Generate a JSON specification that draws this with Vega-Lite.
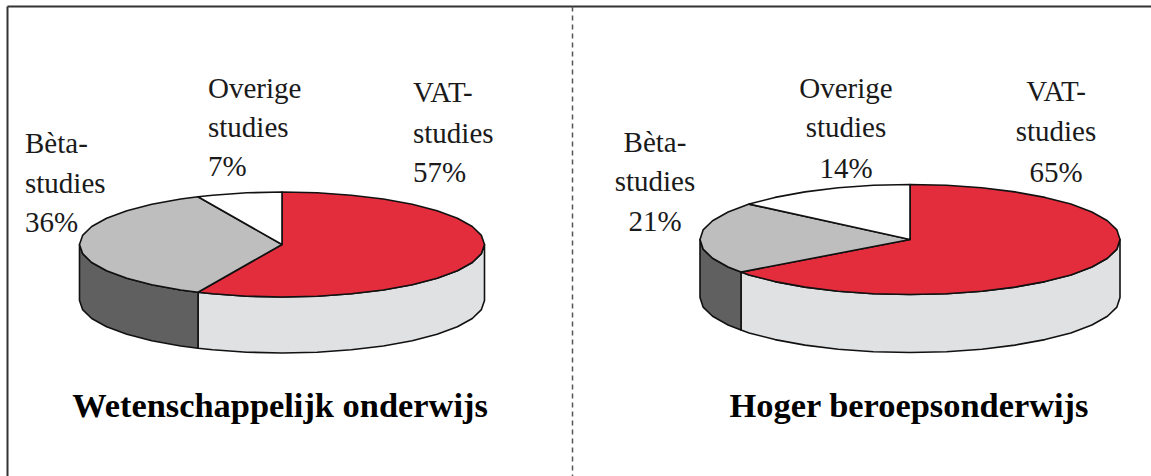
{"$schema":"https://vega.github.io/schema/vega-lite/v6.json","width":1151,"height":476,"padding":0,"autosize":{"type":"none"},"background":"#ffffff","view":{"stroke":null},
"datasets":{
"shapes":[
{"pie":"WO","part":"side VAT","i":1,"x":484.5,"y":244.5},{"pie":"WO","part":"side VAT","i":2,"x":481.4,"y":253.6},{"pie":"WO","part":"side VAT","i":3,"x":472.3,"y":262.5},{"pie":"WO","part":"side VAT","i":4,"x":457.4,"y":270.8},{"pie":"WO","part":"side VAT","i":5,"x":437.1,"y":278.3},{"pie":"WO","part":"side VAT","i":6,"x":412.2,"y":284.7},{"pie":"WO","part":"side VAT","i":7,"x":383.3,"y":290},{"pie":"WO","part":"side VAT","i":8,"x":351.3,"y":293.8},{"pie":"WO","part":"side VAT","i":9,"x":317.2,"y":296.2},{"pie":"WO","part":"side VAT","i":10,"x":282,"y":297},{"pie":"WO","part":"side VAT","i":11,"x":246.8,"y":296.2},{"pie":"WO","part":"side VAT","i":12,"x":212.7,"y":293.8},{"pie":"WO","part":"side VAT","i":13,"x":198,"y":292.3},{"pie":"WO","part":"side VAT","i":14,"x":198,"y":348.3},{"pie":"WO","part":"side VAT","i":15,"x":212.7,"y":349.8},{"pie":"WO","part":"side VAT","i":16,"x":246.8,"y":352.2},{"pie":"WO","part":"side VAT","i":17,"x":282,"y":353},{"pie":"WO","part":"side VAT","i":18,"x":317.2,"y":352.2},{"pie":"WO","part":"side VAT","i":19,"x":351.3,"y":349.8},{"pie":"WO","part":"side VAT","i":20,"x":383.3,"y":346},{"pie":"WO","part":"side VAT","i":21,"x":412.2,"y":340.7},{"pie":"WO","part":"side VAT","i":22,"x":437.1,"y":334.3},{"pie":"WO","part":"side VAT","i":23,"x":457.4,"y":326.8},{"pie":"WO","part":"side VAT","i":24,"x":472.3,"y":318.5},{"pie":"WO","part":"side VAT","i":25,"x":481.4,"y":309.6},{"pie":"WO","part":"side VAT","i":26,"x":484.5,"y":300.5},
{"pie":"WO","part":"side Beta","i":1,"x":198,"y":292.3},{"pie":"WO","part":"side Beta","i":2,"x":180.7,"y":290},{"pie":"WO","part":"side Beta","i":3,"x":151.8,"y":284.7},{"pie":"WO","part":"side Beta","i":4,"x":126.9,"y":278.3},{"pie":"WO","part":"side Beta","i":5,"x":106.6,"y":270.8},{"pie":"WO","part":"side Beta","i":6,"x":91.7,"y":262.5},{"pie":"WO","part":"side Beta","i":7,"x":82.6,"y":253.6},{"pie":"WO","part":"side Beta","i":8,"x":79.5,"y":244.5},{"pie":"WO","part":"side Beta","i":9,"x":79.5,"y":300.5},{"pie":"WO","part":"side Beta","i":10,"x":82.6,"y":309.6},{"pie":"WO","part":"side Beta","i":11,"x":91.7,"y":318.5},{"pie":"WO","part":"side Beta","i":12,"x":106.6,"y":326.8},{"pie":"WO","part":"side Beta","i":13,"x":126.9,"y":334.3},{"pie":"WO","part":"side Beta","i":14,"x":151.8,"y":340.7},{"pie":"WO","part":"side Beta","i":15,"x":180.7,"y":346},{"pie":"WO","part":"side Beta","i":16,"x":198,"y":348.3},
{"pie":"WO","part":"VAT-studies","i":1,"x":282,"y":244.5},{"pie":"WO","part":"VAT-studies","i":2,"x":282,"y":192},{"pie":"WO","part":"VAT-studies","i":3,"x":317.2,"y":192.8},{"pie":"WO","part":"VAT-studies","i":4,"x":351.3,"y":195.2},{"pie":"WO","part":"VAT-studies","i":5,"x":383.3,"y":199},{"pie":"WO","part":"VAT-studies","i":6,"x":412.2,"y":204.3},{"pie":"WO","part":"VAT-studies","i":7,"x":437.1,"y":210.7},{"pie":"WO","part":"VAT-studies","i":8,"x":457.4,"y":218.2},{"pie":"WO","part":"VAT-studies","i":9,"x":472.3,"y":226.5},{"pie":"WO","part":"VAT-studies","i":10,"x":481.4,"y":235.4},{"pie":"WO","part":"VAT-studies","i":11,"x":484.5,"y":244.5},{"pie":"WO","part":"VAT-studies","i":12,"x":481.4,"y":253.6},{"pie":"WO","part":"VAT-studies","i":13,"x":472.3,"y":262.5},{"pie":"WO","part":"VAT-studies","i":14,"x":457.4,"y":270.8},{"pie":"WO","part":"VAT-studies","i":15,"x":437.1,"y":278.3},{"pie":"WO","part":"VAT-studies","i":16,"x":412.2,"y":284.7},{"pie":"WO","part":"VAT-studies","i":17,"x":383.3,"y":290},{"pie":"WO","part":"VAT-studies","i":18,"x":351.3,"y":293.8},{"pie":"WO","part":"VAT-studies","i":19,"x":317.2,"y":296.2},{"pie":"WO","part":"VAT-studies","i":20,"x":282,"y":297},{"pie":"WO","part":"VAT-studies","i":21,"x":246.8,"y":296.2},{"pie":"WO","part":"VAT-studies","i":22,"x":212.7,"y":293.8},{"pie":"WO","part":"VAT-studies","i":23,"x":198,"y":292.3},
{"pie":"WO","part":"Bèta-studies","i":1,"x":282,"y":244.5},{"pie":"WO","part":"Bèta-studies","i":2,"x":198,"y":292.3},{"pie":"WO","part":"Bèta-studies","i":3,"x":180.7,"y":290},{"pie":"WO","part":"Bèta-studies","i":4,"x":151.8,"y":284.7},{"pie":"WO","part":"Bèta-studies","i":5,"x":126.9,"y":278.3},{"pie":"WO","part":"Bèta-studies","i":6,"x":106.6,"y":270.8},{"pie":"WO","part":"Bèta-studies","i":7,"x":91.7,"y":262.5},{"pie":"WO","part":"Bèta-studies","i":8,"x":82.6,"y":253.6},{"pie":"WO","part":"Bèta-studies","i":9,"x":79.5,"y":244.5},{"pie":"WO","part":"Bèta-studies","i":10,"x":82.6,"y":235.4},{"pie":"WO","part":"Bèta-studies","i":11,"x":91.7,"y":226.5},{"pie":"WO","part":"Bèta-studies","i":12,"x":106.6,"y":218.2},{"pie":"WO","part":"Bèta-studies","i":13,"x":126.9,"y":210.7},{"pie":"WO","part":"Bèta-studies","i":14,"x":151.8,"y":204.3},{"pie":"WO","part":"Bèta-studies","i":15,"x":180.7,"y":199},{"pie":"WO","part":"Bèta-studies","i":16,"x":198,"y":196.7},
{"pie":"WO","part":"Overige studies","i":1,"x":282,"y":244.5},{"pie":"WO","part":"Overige studies","i":2,"x":198,"y":196.7},{"pie":"WO","part":"Overige studies","i":3,"x":212.7,"y":195.2},{"pie":"WO","part":"Overige studies","i":4,"x":246.8,"y":192.8},{"pie":"WO","part":"Overige studies","i":5,"x":282,"y":192},
{"pie":"HBO","part":"side VAT","i":1,"x":1120,"y":239.5},{"pie":"HBO","part":"side VAT","i":2,"x":1116.9,"y":249.1},{"pie":"HBO","part":"side VAT","i":3,"x":1107.4,"y":258.3},{"pie":"HBO","part":"side VAT","i":4,"x":1091.9,"y":267},{"pie":"HBO","part":"side VAT","i":5,"x":1070.9,"y":274.9},{"pie":"HBO","part":"side VAT","i":6,"x":1045,"y":281.6},{"pie":"HBO","part":"side VAT","i":7,"x":1015,"y":287.1},{"pie":"HBO","part":"side VAT","i":8,"x":981.8,"y":291.2},{"pie":"HBO","part":"side VAT","i":9,"x":946.5,"y":293.7},{"pie":"HBO","part":"side VAT","i":10,"x":910,"y":294.5},{"pie":"HBO","part":"side VAT","i":11,"x":873.5,"y":293.7},{"pie":"HBO","part":"side VAT","i":12,"x":838.2,"y":291.2},{"pie":"HBO","part":"side VAT","i":13,"x":805,"y":287.1},{"pie":"HBO","part":"side VAT","i":14,"x":775,"y":281.6},{"pie":"HBO","part":"side VAT","i":15,"x":749.1,"y":274.9},{"pie":"HBO","part":"side VAT","i":16,"x":741,"y":272.1},{"pie":"HBO","part":"side VAT","i":17,"x":741,"y":330.1},{"pie":"HBO","part":"side VAT","i":18,"x":749.1,"y":332.9},{"pie":"HBO","part":"side VAT","i":19,"x":775,"y":339.6},{"pie":"HBO","part":"side VAT","i":20,"x":805,"y":345.1},{"pie":"HBO","part":"side VAT","i":21,"x":838.2,"y":349.2},{"pie":"HBO","part":"side VAT","i":22,"x":873.5,"y":351.7},{"pie":"HBO","part":"side VAT","i":23,"x":910,"y":352.5},{"pie":"HBO","part":"side VAT","i":24,"x":946.5,"y":351.7},{"pie":"HBO","part":"side VAT","i":25,"x":981.8,"y":349.2},{"pie":"HBO","part":"side VAT","i":26,"x":1015,"y":345.1},{"pie":"HBO","part":"side VAT","i":27,"x":1045,"y":339.6},{"pie":"HBO","part":"side VAT","i":28,"x":1070.9,"y":332.9},{"pie":"HBO","part":"side VAT","i":29,"x":1091.9,"y":325},{"pie":"HBO","part":"side VAT","i":30,"x":1107.4,"y":316.3},{"pie":"HBO","part":"side VAT","i":31,"x":1116.9,"y":307.1},{"pie":"HBO","part":"side VAT","i":32,"x":1120,"y":297.5},
{"pie":"HBO","part":"side Beta","i":1,"x":741,"y":272.1},{"pie":"HBO","part":"side Beta","i":2,"x":728.1,"y":267},{"pie":"HBO","part":"side Beta","i":3,"x":712.6,"y":258.3},{"pie":"HBO","part":"side Beta","i":4,"x":703.1,"y":249.1},{"pie":"HBO","part":"side Beta","i":5,"x":700,"y":239.5},{"pie":"HBO","part":"side Beta","i":6,"x":700,"y":297.5},{"pie":"HBO","part":"side Beta","i":7,"x":703.1,"y":307.1},{"pie":"HBO","part":"side Beta","i":8,"x":712.6,"y":316.3},{"pie":"HBO","part":"side Beta","i":9,"x":728.1,"y":325},{"pie":"HBO","part":"side Beta","i":10,"x":741,"y":330.1},
{"pie":"HBO","part":"VAT-studies","i":1,"x":910,"y":239.5},{"pie":"HBO","part":"VAT-studies","i":2,"x":910,"y":184.5},{"pie":"HBO","part":"VAT-studies","i":3,"x":946.5,"y":185.3},{"pie":"HBO","part":"VAT-studies","i":4,"x":981.8,"y":187.8},{"pie":"HBO","part":"VAT-studies","i":5,"x":1015,"y":191.9},{"pie":"HBO","part":"VAT-studies","i":6,"x":1045,"y":197.4},{"pie":"HBO","part":"VAT-studies","i":7,"x":1070.9,"y":204.1},{"pie":"HBO","part":"VAT-studies","i":8,"x":1091.9,"y":212},{"pie":"HBO","part":"VAT-studies","i":9,"x":1107.4,"y":220.7},{"pie":"HBO","part":"VAT-studies","i":10,"x":1116.9,"y":229.9},{"pie":"HBO","part":"VAT-studies","i":11,"x":1120,"y":239.5},{"pie":"HBO","part":"VAT-studies","i":12,"x":1116.9,"y":249.1},{"pie":"HBO","part":"VAT-studies","i":13,"x":1107.4,"y":258.3},{"pie":"HBO","part":"VAT-studies","i":14,"x":1091.9,"y":267},{"pie":"HBO","part":"VAT-studies","i":15,"x":1070.9,"y":274.9},{"pie":"HBO","part":"VAT-studies","i":16,"x":1045,"y":281.6},{"pie":"HBO","part":"VAT-studies","i":17,"x":1015,"y":287.1},{"pie":"HBO","part":"VAT-studies","i":18,"x":981.8,"y":291.2},{"pie":"HBO","part":"VAT-studies","i":19,"x":946.5,"y":293.7},{"pie":"HBO","part":"VAT-studies","i":20,"x":910,"y":294.5},{"pie":"HBO","part":"VAT-studies","i":21,"x":873.5,"y":293.7},{"pie":"HBO","part":"VAT-studies","i":22,"x":838.2,"y":291.2},{"pie":"HBO","part":"VAT-studies","i":23,"x":805,"y":287.1},{"pie":"HBO","part":"VAT-studies","i":24,"x":775,"y":281.6},{"pie":"HBO","part":"VAT-studies","i":25,"x":749.1,"y":274.9},{"pie":"HBO","part":"VAT-studies","i":26,"x":741,"y":272.1},
{"pie":"HBO","part":"Bèta-studies","i":1,"x":910,"y":239.5},{"pie":"HBO","part":"Bèta-studies","i":2,"x":741,"y":272.1},{"pie":"HBO","part":"Bèta-studies","i":3,"x":728.1,"y":267},{"pie":"HBO","part":"Bèta-studies","i":4,"x":712.6,"y":258.3},{"pie":"HBO","part":"Bèta-studies","i":5,"x":703.1,"y":249.1},{"pie":"HBO","part":"Bèta-studies","i":6,"x":700,"y":239.5},{"pie":"HBO","part":"Bèta-studies","i":7,"x":703.1,"y":229.9},{"pie":"HBO","part":"Bèta-studies","i":8,"x":712.6,"y":220.7},{"pie":"HBO","part":"Bèta-studies","i":9,"x":728.1,"y":212},{"pie":"HBO","part":"Bèta-studies","i":10,"x":749.1,"y":204.1},
{"pie":"HBO","part":"Overige studies","i":1,"x":910,"y":239.5},{"pie":"HBO","part":"Overige studies","i":2,"x":749.1,"y":204.1},{"pie":"HBO","part":"Overige studies","i":3,"x":775,"y":197.4},{"pie":"HBO","part":"Overige studies","i":4,"x":805,"y":191.9},{"pie":"HBO","part":"Overige studies","i":5,"x":838.2,"y":187.8},{"pie":"HBO","part":"Overige studies","i":6,"x":873.5,"y":185.3},{"pie":"HBO","part":"Overige studies","i":7,"x":910,"y":184.5}
],
"frame":[{"x":7.5,"y":6.5,"x2":7.5,"y2":476},{"x":7.5,"y":6.5,"x2":1151,"y2":6.5}],
"divider":[{"x":572.5,"y":6.5,"y2":476}],
"leftLabels":[
{"t":"Bèta-","x":25,"y":153},{"t":"studies","x":25,"y":193},{"t":"36%","x":25,"y":232},
{"t":"Overige","x":208,"y":98},{"t":"studies","x":208,"y":137},{"t":"7%","x":208,"y":176},
{"t":"VAT-","x":413,"y":102},{"t":"studies","x":413,"y":143},{"t":"57%","x":413,"y":182}],
"rightLabels":[
{"t":"Bèta-","x":655,"y":152},{"t":"studies","x":655,"y":191},{"t":"21%","x":655,"y":231},
{"t":"Overige","x":846,"y":98},{"t":"studies","x":846,"y":137},{"t":"14%","x":846,"y":178},
{"t":"VAT-","x":1056,"y":101},{"t":"studies","x":1056,"y":141},{"t":"65%","x":1056,"y":182}],
"titles":[{"t":"Wetenschappelijk onderwijs","x":280,"y":417},{"t":"Hoger beroepsonderwijs","x":909,"y":417}]
},
"encoding":{
"x":{"field":"x","type":"quantitative","scale":{"domain":[0,1151],"nice":false,"zero":false},"axis":null},
"y":{"field":"y","type":"quantitative","scale":{"domain":[476,0],"nice":false,"zero":false},"axis":null}},
"layer":[
{"data":{"name":"frame"},"mark":{"type":"rule","stroke":"#333333","strokeWidth":2},"encoding":{"x2":{"field":"x2"},"y2":{"field":"y2"}}},
{"data":{"name":"divider"},"mark":{"type":"rule","stroke":"#555555","strokeWidth":1.5,"strokeDash":[5,4]},"encoding":{"y2":{"field":"y2"}}},
{"data":{"name":"shapes"},"mark":{"type":"line","filled":true,"interpolate":"linear-closed","stroke":"#111111","strokeWidth":1.6,"strokeJoin":"round"},
"encoding":{"color":{"field":"part","type":"nominal","legend":null,"scale":{"domain":["side VAT","side Beta","VAT-studies","Bèta-studies","Overige studies"],"range":["#E0E1E3","#606060","#E32D3C","#BEBEBE","#FFFFFF"]}},"detail":{"field":"pie"},"order":{"field":"i","type":"quantitative"}}},
{"data":{"name":"leftLabels"},"mark":{"type":"text","align":"left","baseline":"alphabetic","font":"Liberation Serif","fontSize":29,"color":"#1a1a1a"},"encoding":{"text":{"field":"t"}}},
{"data":{"name":"rightLabels"},"mark":{"type":"text","align":"center","baseline":"alphabetic","font":"Liberation Serif","fontSize":29,"color":"#1a1a1a"},"encoding":{"text":{"field":"t"}}},
{"data":{"name":"titles"},"mark":{"type":"text","align":"center","baseline":"alphabetic","font":"Liberation Serif","fontSize":34.4,"fontWeight":"bold","color":"#000000"},"encoding":{"text":{"field":"t"}}}
]}
